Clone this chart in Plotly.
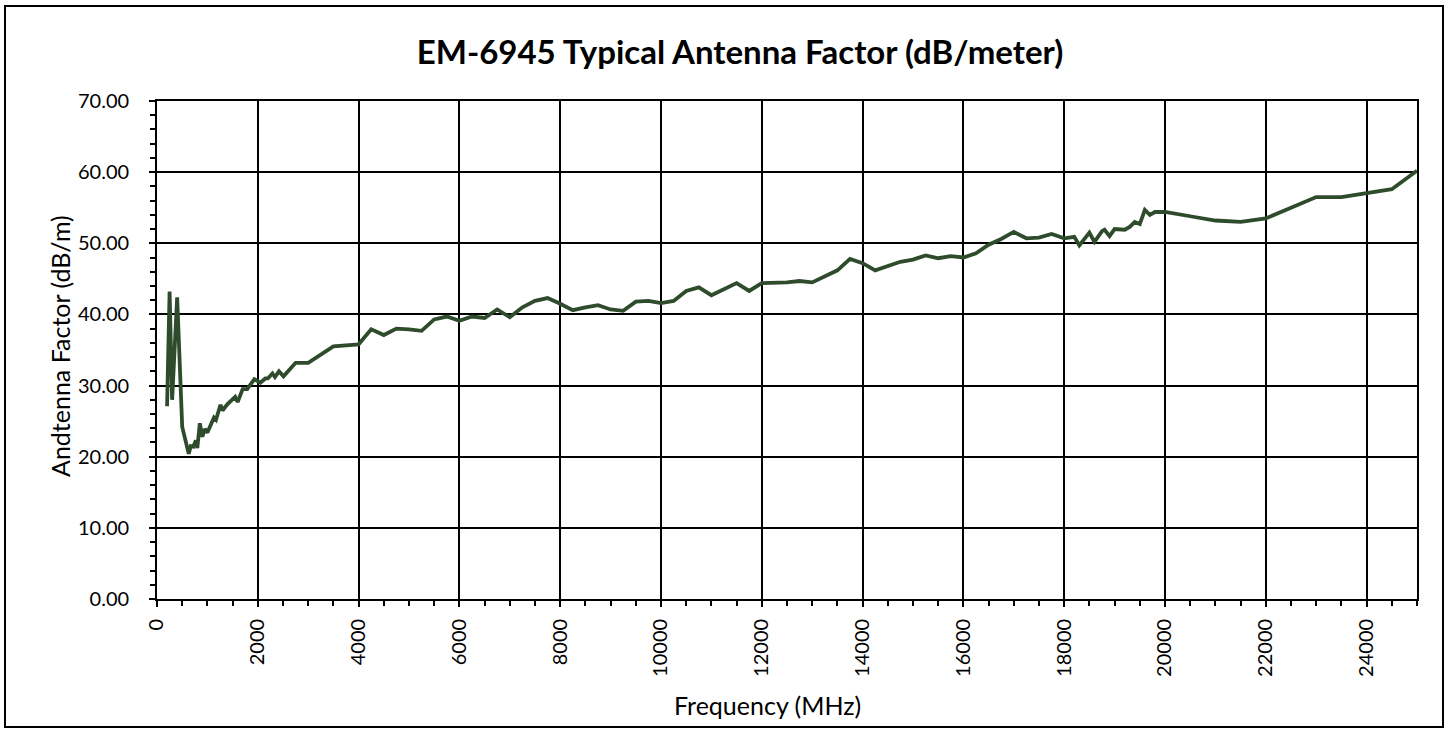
import plotly.graph_objects as go

# Frequency (MHz) and antenna factor (dB/m)
freq_mhz = [
    200, 250, 300, 400, 500, 570, 630, 670, 720, 770, 800, 850, 900, 950, 1000,
    1130, 1170, 1260, 1300, 1400, 1550, 1600, 1700, 1790, 1930, 2050, 2150, 2200,
    2290, 2340, 2420, 2510, 2750, 3000, 3250, 3500, 4000, 4250, 4500, 4750, 5000,
    5250, 5500, 5750, 6000, 6250, 6500, 6750, 7000, 7250, 7500, 7750, 8000, 8250,
    8500, 8750, 9000, 9250, 9500, 9750, 10000, 10250, 10500, 10750, 11000, 11250,
    11500, 11750, 12000, 12500, 12750, 13000, 13250, 13500, 13750, 14000, 14250,
    14500, 14750, 15000, 15250, 15500, 15750, 16000, 16250, 16500, 16750, 17000,
    17250, 17500, 17750, 18000, 18200, 18300, 18500, 18600, 18750, 18800, 18900,
    19000, 19200, 19300, 19400, 19500, 19600, 19700, 19800, 19900, 20000, 20500,
    21000, 21500, 22000, 22500, 23000, 23500, 24000, 24500, 25000,
]
antenna_factor_db = [
    27.1, 43.2, 28.0, 42.4, 24.2, 21.9, 20.4, 21.5, 21.4, 22.3, 21.2, 24.7, 22.8,
    23.9, 23.4, 25.5, 25.2, 27.3, 26.5, 27.4, 28.4, 27.7, 29.5, 29.5, 30.9, 30.4,
    31.0, 31.0, 31.7, 31.2, 32.0, 31.3, 33.2, 33.2, 34.3, 35.5, 35.8, 37.9, 37.1,
    38.0, 37.9, 37.7, 39.3, 39.7, 39.1, 39.7, 39.5, 40.7, 39.6, 41.0, 41.9, 42.3,
    41.5, 40.6, 41.0, 41.3, 40.7, 40.5, 41.8, 41.9, 41.6, 41.9, 43.3, 43.8, 42.7,
    43.5, 44.4, 43.3, 44.4, 44.5, 44.7, 44.5, 45.4, 46.2, 47.8, 47.2, 46.2, 46.8,
    47.4, 47.7, 48.3, 47.9, 48.2, 48.0, 48.6, 49.8, 50.6, 51.6, 50.7, 50.8, 51.3,
    50.7, 50.9, 49.7, 51.5, 50.2, 51.7, 51.9, 51.0, 52.0, 51.9, 52.3, 53.0, 52.7,
    54.7, 54.0, 54.4, 54.4, 54.4, 53.8, 53.2, 53.0, 53.5, 55.0, 56.5, 56.5, 57.1,
    57.6, 60.2,
]

x_tick_values = [0, 2000, 4000, 6000, 8000, 10000, 12000, 14000, 16000, 18000,
                 20000, 22000, 24000]
y_tick_values = [0, 10, 20, 30, 40, 50, 60, 70]

chart_title = "EM-6945 Typical Antenna Factor (dB/meter)"
x_title = "Frequency (MHz)"
y_title = "Andtenna Factor (dB/m)"

FONT = "Lato"
W, H = 1449, 730
L, R, T, B = 157, 32, 101, 131
PW, PH = W - L - R, H - T - B


def px_to_paper_x(px):
    return (px - L) / PW


def px_to_paper_y(py):
    return (H - B - py) / PH


fig = go.Figure()
fig.add_trace(go.Scatter(
    x=freq_mhz, y=antenna_factor_db, mode="lines",
    line=dict(color="#2E4B2C", width=3.8),
    showlegend=False, hoverinfo="x+y",
))

axis_common = dict(
    showgrid=True, gridcolor="black", gridwidth=1.8,
    showline=True, linecolor="black", linewidth=1.8, mirror=True,
    ticks="outside", ticklen=6, tickwidth=1.5, tickcolor="black",
    tickfont=dict(family=FONT, size=20, color="black"),
    zeroline=False, automargin=False, fixedrange=True,
)

fig.update_xaxes(
    range=[0, 25000], tickmode="array", tickvals=x_tick_values,
    ticktext=[str(v) for v in x_tick_values], tickangle=-90,
    minor=dict(dtick=500, ticks="outside", ticklen=5, tickwidth=1.5,
               tickcolor="black", showgrid=False),
    ticklabelstandoff=4,
    **axis_common,
)
fig.update_yaxes(
    range=[0, 70], tickmode="array", tickvals=y_tick_values,
    ticktext=[f"{v:.2f}" for v in y_tick_values],
    minor=dict(dtick=2, ticks="outside", ticklen=5, tickwidth=1.5,
               tickcolor="black", showgrid=False),
    ticklabelstandoff=16,
    **axis_common,
)

fig.update_layout(
    width=W, height=H,
    margin=dict(l=L, r=R, t=T, b=B),
    paper_bgcolor="white", plot_bgcolor="white",
    title=dict(
        text=f"<b>{chart_title}</b>", x=740 / W, xref="container",
        xanchor="center", y=1 - 52 / H, yref="container", yanchor="middle",
        font=dict(family=FONT, size=33, color="black"),
    ),
    annotations=[
        dict(text=y_title, xref="paper", yref="paper",
             x=px_to_paper_x(60), y=px_to_paper_y(346), textangle=-90,
             showarrow=False, xanchor="center", yanchor="middle",
             font=dict(family=FONT, size=25, color="black")),
        dict(text=x_title, xref="paper", yref="paper",
             x=px_to_paper_x(767), y=px_to_paper_y(705),
             showarrow=False, xanchor="center", yanchor="middle",
             font=dict(family=FONT, size=25, color="black")),
    ],
    shapes=[
        dict(type="rect", xref="paper", yref="paper", layer="above",
             x0=px_to_paper_x(5), x1=px_to_paper_x(1443),
             y0=px_to_paper_y(727), y1=px_to_paper_y(6),
             line=dict(color="black", width=2), fillcolor="rgba(0,0,0,0)"),
    ],
)

fig.write_html(
    "out.html",
    config={"displayModeBar": False},
    post_script="document.body.style.margin='0';"
                "document.body.style.overflow='hidden';",
)
